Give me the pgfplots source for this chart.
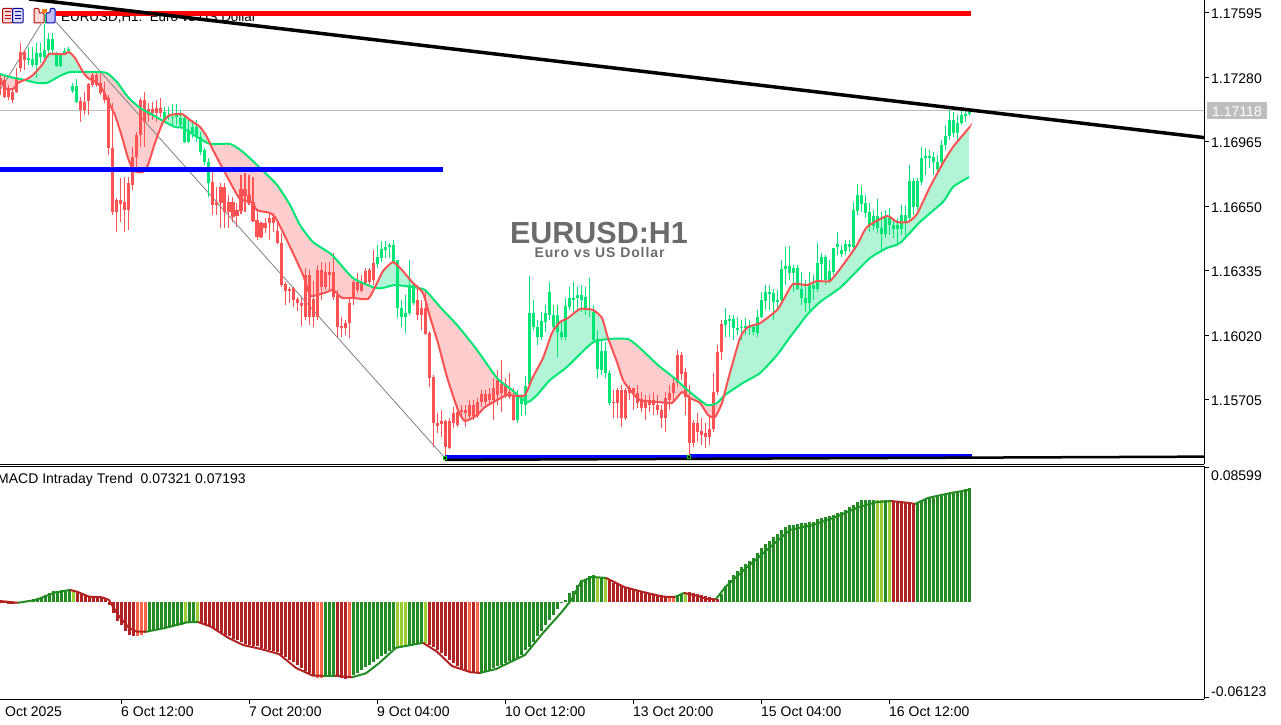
\documentclass[border=0pt]{standalone}
\usepackage{fontspec}
\setmainfont{Liberation Sans}
\usepackage{pgfplots}
\usepackage{pgfplotstable}
\pgfplotsset{compat=1.18}

\definecolor{cgreen}{HTML}{00E676}
\definecolor{cred}{HTML}{FF5252}
\definecolor{fillg}{HTML}{B2F5D6}
\definecolor{fillr}{HTML}{FFCDCD}
\definecolor{hgreen}{HTML}{228B22}
\definecolor{hred}{HTML}{B22222}
\definecolor{horange}{HTML}{FF6347}
\definecolor{hyellow}{HTML}{9ACD32}
\definecolor{greyt}{HTML}{BEBEBE}
\definecolor{wmark}{HTML}{6B6B6B}

% bars: index, high, body top, body bottom, low
\pgfplotstableread{
i h t b l
0 1.17292 1.17277 1.17243 1.17194
1 1.17292 1.17267 1.17184 1.17179
2 1.17243 1.17228 1.17184 1.17170
3 1.17228 1.17209 1.17170 1.17155
4 1.17326 1.17282 1.17209 1.17204
5 1.17448 1.17404 1.17326 1.17306
6 1.17414 1.17404 1.17365 1.17316
20 1.17184 1.17165 1.17121 1.17062
21 1.17209 1.17160 1.17121 1.17096
22 1.17253 1.17248 1.17165 1.17096
23 1.17306 1.17292 1.17243 1.17233
24 1.17306 1.17292 1.17243 1.17233
25 1.17301 1.17253 1.17204 1.17194
26 1.17257 1.17204 1.17170 1.17155
27 1.17194 1.17179 1.16935 1.16901
28 1.17155 1.16935 1.16623 1.16608
29 1.16691 1.16681 1.16623 1.16525
30 1.16789 1.16681 1.16662 1.16574
31 1.16794 1.16672 1.16633 1.16525
32 1.16794 1.16764 1.16633 1.16535
33 1.16940 1.16891 1.16755 1.16730
34 1.17013 1.16999 1.16891 1.16818
35 1.17179 1.17170 1.16999 1.16940
36 1.17209 1.17170 1.17062 1.16940
37 1.17155 1.17126 1.17096 1.17062
38 1.17160 1.17126 1.17106 1.17072
39 1.17170 1.17131 1.17106 1.17062
40 1.17179 1.17131 1.17106 1.17087
53 1.16818 1.16769 1.16657 1.16608
54 1.16745 1.16672 1.16657 1.16608
55 1.16764 1.16745 1.16667 1.16545
56 1.16764 1.16745 1.16623 1.16545
57 1.16706 1.16672 1.16623 1.16545
58 1.16696 1.16672 1.16598 1.16574
59 1.16667 1.16633 1.16604 1.16550
60 1.16804 1.16735 1.16628 1.16613
61 1.16813 1.16735 1.16701 1.16623
62 1.16804 1.16706 1.16667 1.16657
63 1.16794 1.16672 1.16579 1.16574
64 1.16633 1.16584 1.16501 1.16486
65 1.16574 1.16569 1.16501 1.16496
66 1.16594 1.16569 1.16545 1.16520
67 1.16623 1.16594 1.16569 1.16486
68 1.16618 1.16598 1.16569 1.16525
69 1.16574 1.16530 1.16471 1.16466
70 1.16520 1.16471 1.16266 1.16256
71 1.16281 1.16271 1.16237 1.16169
72 1.16256 1.16247 1.16237 1.16178
73 1.16256 1.16252 1.16193 1.16159
74 1.16208 1.16198 1.16178 1.16139
75 1.16203 1.16178 1.16164 1.16066
76 1.16349 1.16315 1.16110 1.16095
77 1.16339 1.16315 1.16110 1.16071
78 1.16286 1.16198 1.16110 1.16061
79 1.16364 1.16339 1.16110 1.16095
80 1.16379 1.16339 1.16256 1.16193
81 1.16374 1.16330 1.16256 1.16242
82 1.16379 1.16330 1.16315 1.16242
83 1.16423 1.16330 1.16208 1.16193
84 1.16242 1.16217 1.16061 1.16012
85 1.16110 1.16066 1.16056 1.16012
86 1.16095 1.16080 1.16056 1.16022
87 1.16208 1.16178 1.16080 1.16007
88 1.16291 1.16281 1.16208 1.16169
89 1.16325 1.16281 1.16242 1.16227
90 1.16315 1.16276 1.16237 1.16232
91 1.16349 1.16335 1.16276 1.16266
92 1.16349 1.16339 1.16281 1.16266
93 1.16437 1.16374 1.16291 1.16266
104 1.16266 1.16193 1.16120 1.16095
105 1.16193 1.16154 1.16120 1.16046
106 1.16242 1.16154 1.16027 1.16022
107 1.16041 1.16032 1.15812 1.15768
108 1.15827 1.15817 1.15592 1.15475
109 1.15641 1.15592 1.15578 1.15544
110 1.15655 1.15602 1.15587 1.15524
111 1.15607 1.15602 1.15475 1.15431
112 1.15617 1.15602 1.15470 1.15465
113 1.15670 1.15641 1.15592 1.15568
114 1.15680 1.15646 1.15582 1.15573
115 1.15680 1.15655 1.15645 1.15616
116 1.15680 1.15655 1.15641 1.15573
117 1.15704 1.15680 1.15626 1.15616
118 1.15704 1.15680 1.15626 1.15607
119 1.15714 1.15694 1.15626 1.15616
120 1.15753 1.15734 1.15694 1.15670
121 1.15753 1.15734 1.15694 1.15680
122 1.15763 1.15734 1.15704 1.15680
123 1.15812 1.15763 1.15704 1.15607
124 1.15851 1.15802 1.15729 1.15680
125 1.15900 1.15783 1.15739 1.15646
126 1.15812 1.15783 1.15724 1.15714
127 1.15836 1.15744 1.15719 1.15709
128 1.15763 1.15724 1.15607 1.15602
153 1.15753 1.15694 1.15690 1.15616
154 1.15763 1.15753 1.15690 1.15616
155 1.15778 1.15753 1.15616 1.15573
156 1.15763 1.15753 1.15616 1.15607
157 1.15778 1.15763 1.15739 1.15704
158 1.15763 1.15763 1.15739 1.15655
159 1.15778 1.15739 1.15690 1.15665
160 1.15744 1.15709 1.15665 1.15646
161 1.15729 1.15704 1.15665 1.15607
162 1.15729 1.15704 1.15680 1.15646
163 1.15744 1.15704 1.15680 1.15631
164 1.15729 1.15680 1.15655 1.15631
165 1.15680 1.15655 1.15616 1.15568
166 1.15743 1.15714 1.15616 1.15548
167 1.15778 1.15739 1.15704 1.15655
168 1.15812 1.15788 1.15739 1.15694
169 1.15949 1.15924 1.15788 1.15768
170 1.15939 1.15924 1.15832 1.15802
171 1.15861 1.15841 1.15719 1.15631
172 1.15778 1.15719 1.15495 1.15436
173 1.15607 1.15592 1.15495 1.15475
174 1.15641 1.15592 1.15548 1.15499
175 1.15616 1.15553 1.15533 1.15485
176 1.15592 1.15543 1.15524 1.15470
177 1.15631 1.15563 1.15524 1.15485
178 1.15836 1.15743 1.15563 1.15548
179 1.15973 1.15939 1.15743 1.15729
180 1.16095 1.16076 1.15939 1.15900
}\redbars
\pgfplotstableread{
i h t b l
7 1.17428 1.17375 1.17365 1.17341
8 1.17428 1.17370 1.17341 1.17331
9 1.17448 1.17399 1.17341 1.17277
10 1.17448 1.17399 1.17380 1.17350
11 1.17599 1.17414 1.17380 1.17365
12 1.17497 1.17468 1.17414 1.17380
13 1.17497 1.17468 1.17414 1.17390
14 1.17404 1.17390 1.17336 1.17331
15 1.17399 1.17390 1.17336 1.17331
16 1.17424 1.17409 1.17394 1.17390
17 1.17428 1.17419 1.17409 1.17404
18 1.17253 1.17238 1.17214 1.17204
19 1.17272 1.17238 1.17160 1.17155
41 1.17135 1.17111 1.17072 1.17062
42 1.17135 1.17096 1.17087 1.17072
43 1.17150 1.17087 1.17082 1.17047
44 1.17150 1.17096 1.17087 1.17047
45 1.17121 1.17082 1.17047 1.17038
46 1.17087 1.17082 1.16965 1.16960
47 1.17072 1.17023 1.16965 1.16960
48 1.17072 1.17038 1.17008 1.16984
49 1.17072 1.17038 1.16989 1.16965
50 1.17013 1.16989 1.16916 1.16901
51 1.16935 1.16925 1.16867 1.16852
52 1.16886 1.16867 1.16764 1.16696
94 1.16461 1.16403 1.16369 1.16349
95 1.16481 1.16442 1.16398 1.16379
96 1.16481 1.16452 1.16437 1.16398
97 1.16471 1.16461 1.16452 1.16398
98 1.16486 1.16461 1.16379 1.16374
99 1.16388 1.16388 1.16154 1.16105
100 1.16193 1.16154 1.16110 1.16061
101 1.16217 1.16130 1.16110 1.16032
102 1.16388 1.16266 1.16130 1.16120
103 1.16281 1.16266 1.16178 1.16169
129 1.15753 1.15719 1.15607 1.15592
130 1.15734 1.15709 1.15685 1.15626
131 1.15822 1.15773 1.15680 1.15631
132 1.16310 1.16130 1.15783 1.15773
133 1.16193 1.16130 1.16061 1.16046
134 1.16095 1.16061 1.16012 1.15973
135 1.16134 1.16090 1.16012 1.15998
136 1.16169 1.16130 1.16085 1.16037
137 1.16281 1.16232 1.16120 1.16095
138 1.16169 1.16120 1.16061 1.16046
139 1.16169 1.16120 1.16037 1.15914
140 1.16095 1.16037 1.16012 1.15998
141 1.16203 1.16164 1.16012 1.15998
142 1.16256 1.16203 1.16159 1.16144
143 1.16281 1.16203 1.16193 1.16134
144 1.16256 1.16217 1.16203 1.16144
145 1.16266 1.16217 1.16193 1.16134
146 1.16256 1.16208 1.16154 1.16120
147 1.16300 1.16154 1.16144 1.16110
148 1.16169 1.16134 1.15998 1.15983
149 1.16046 1.16003 1.15856 1.15812
150 1.15998 1.15944 1.15851 1.15827
151 1.15988 1.15944 1.15836 1.15812
152 1.15851 1.15836 1.15690 1.15680
181 1.16154 1.16095 1.16071 1.16012
182 1.16120 1.16100 1.16090 1.16012
183 1.16120 1.16100 1.16056 1.15998
184 1.16110 1.16056 1.16046 1.16022
185 1.16095 1.16061 1.16056 1.15998
186 1.16105 1.16066 1.16056 1.16022
187 1.16095 1.16066 1.16056 1.16022
188 1.16071 1.16061 1.16037 1.16022
189 1.16144 1.16110 1.16032 1.16012
190 1.16232 1.16193 1.16110 1.16105
191 1.16266 1.16232 1.16188 1.16144
192 1.16266 1.16232 1.16222 1.16144
193 1.16247 1.16227 1.16183 1.16095
194 1.16242 1.16193 1.16183 1.16144
195 1.16388 1.16344 1.16193 1.16183
196 1.16452 1.16359 1.16344 1.16266
197 1.16457 1.16359 1.16325 1.16291
198 1.16364 1.16349 1.16325 1.16232
199 1.16364 1.16349 1.16247 1.16242
200 1.16330 1.16247 1.16203 1.16169
201 1.16291 1.16203 1.16178 1.16134
202 1.16330 1.16266 1.16178 1.16134
203 1.16315 1.16266 1.16247 1.16193
204 1.16471 1.16374 1.16247 1.16232
205 1.16422 1.16403 1.16369 1.16291
206 1.16413 1.16403 1.16291 1.16266
207 1.16388 1.16334 1.16291 1.16276
208 1.16447 1.16447 1.16329 1.16315
209 1.16524 1.16466 1.16452 1.16413
210 1.16461 1.16437 1.16417 1.16403
211 1.16486 1.16466 1.16432 1.16413
212 1.16486 1.16466 1.16452 1.16427
213 1.16672 1.16632 1.16452 1.16447
214 1.16760 1.16705 1.16628 1.16608
215 1.16750 1.16705 1.16662 1.16623
216 1.16705 1.16666 1.16618 1.16593
217 1.16666 1.16623 1.16559 1.16525
218 1.16632 1.16603 1.16554 1.16535
219 1.16686 1.16603 1.16544 1.16520
220 1.16623 1.16544 1.16515 1.16427
221 1.16632 1.16593 1.16515 1.16496
222 1.16642 1.16593 1.16559 1.16510
223 1.16593 1.16559 1.16539 1.16496
224 1.16593 1.16559 1.16539 1.16461
225 1.16657 1.16608 1.16539 1.16510
226 1.16657 1.16608 1.16574 1.16500
227 1.16853 1.16774 1.16593 1.16574
228 1.16789 1.16774 1.16647 1.16608
229 1.16789 1.16774 1.16647 1.16632
230 1.16940 1.16886 1.16769 1.16755
231 1.16935 1.16896 1.16886 1.16804
232 1.16925 1.16896 1.16886 1.16838
233 1.16916 1.16891 1.16867 1.16804
234 1.16901 1.16867 1.16833 1.16818
235 1.16975 1.16950 1.16867 1.16853
236 1.17047 1.16994 1.16950 1.16925
237 1.17121 1.17072 1.16994 1.16975
238 1.17111 1.17072 1.17008 1.16989
239 1.17096 1.17057 1.17008 1.16960
240 1.17121 1.17096 1.17057 1.17047
241 1.17121 1.17101 1.17091 1.17062
242 1.17116 1.17111 1.17101 1.17091
}\greenbars

% fast and slow averages
\pgfplotstableread{
i p
-0.25 1.17277
1 1.17228
3 1.17223
4.25 1.17253
6.5 1.17272
8 1.17292
10.25 1.17341
12 1.17394
14.25 1.17394
16 1.17394
17 1.17404
18.5 1.17375
20.5 1.17306
21.75 1.17277
24 1.17253
25.5 1.17218
27 1.17155
28.5 1.17096
30.25 1.16989
31.75 1.16886
33 1.16828
34 1.16818
35.5 1.16818
36.75 1.16853
38.5 1.16960
40.5 1.17062
42.25 1.17096
45.25 1.17101
47.25 1.17072
49.75 1.17038
51.5 1.16989
53 1.16925
55.25 1.16842
57.25 1.16769
59.75 1.16686
62.75 1.16672
64 1.16632
67.25 1.16618
68.5 1.16598
70.25 1.16534
73 1.16422
75.5 1.16315
77.25 1.16217
79 1.16217
81.5 1.16232
83 1.16242
85.25 1.16203
88 1.16203
91.75 1.16198
93.5 1.16256
95.5 1.16334
98 1.16378
100.25 1.16339
103 1.16276
105.5 1.16227
107.25 1.16110
109.25 1.15983
111.5 1.15817
114.25 1.15655
116 1.15602
119 1.15631
121 1.15670
124 1.15704
126.5 1.15729
129 1.15724
131 1.15729
133 1.15817
135.5 1.15909
137.75 1.16032
139.75 1.16085
141.75 1.16105
144.75 1.16149
148 1.16144
150.25 1.16105
151.75 1.16007
154 1.15890
155.5 1.15802
157.25 1.15753
159.75 1.15704
164.75 1.15694
167.75 1.15690
170.25 1.15743
172.25 1.15714
174.75 1.15690
176.75 1.15631
178.5 1.15621
180.25 1.15690
181.75 1.15802
184.75 1.16007
186.75 1.16061
189.75 1.16080
194 1.16144
196 1.16208
198 1.16271
201.5 1.16266
204 1.16286
207.25 1.16286
210.5 1.16364
214 1.16461
216.5 1.16549
221.5 1.16603
224 1.16574
226.75 1.16574
229 1.16613
232.25 1.16745
235.5 1.16862
238 1.16940
241.75 1.17028
242 1.17033
}\fastT
\pgfplotstableread{
i p
-0.25 1.17297
2.25 1.17282
6 1.17267
9 1.17253
11.5 1.17253
14.25 1.17282
17.25 1.17306
24 1.17306
26.5 1.17301
29 1.17257
31.75 1.17184
34.75 1.17131
38 1.17096
41 1.17062
43.5 1.17038
45.5 1.17033
49 1.16989
52.25 1.16955
57.25 1.16955
60.5 1.16916
64.75 1.16838
69 1.16755
72.25 1.16657
74.75 1.16559
78 1.16476
82.75 1.16413
88 1.16300
93.5 1.16252
95.5 1.16252
98.5 1.16266
102.75 1.16256
106 1.16242
109.75 1.16159
114 1.16071
119 1.15949
124 1.15812
127.75 1.15753
131.5 1.15694
134 1.15729
137.25 1.15802
141.5 1.15866
147.75 1.15983
151.75 1.16002
156.75 1.16002
159.75 1.15958
164.25 1.15875
168 1.15817
172.25 1.15743
176.5 1.15680
179 1.15690
181 1.15729
185.5 1.15788
189.75 1.15836
194 1.15924
196.75 1.15998
201.5 1.16120
204.75 1.16183
209.75 1.16252
213 1.16315
217.25 1.16398
221.5 1.16447
224.75 1.16471
229.75 1.16574
235.5 1.16672
238 1.16745
242 1.16793
}\slowT

\begin{document}
\begin{tikzpicture}[every node/.style={inner sep=0pt}]
\path[use as bounding box] (0,0) rectangle (1281pt,724pt);

% text that lies under the chart objects
\begin{scope}[shift={(0,724pt)},x=1pt,y=-1pt]
\node[anchor=west,font=\fontsize{13.4}{16}\selectfont] at (61,18) {EURUSD,H1:\ \ Euro vs US Dollar};
\node[text=wmark,font=\fontsize{30.5}{32}\selectfont\bfseries] at (599,233) {EURUSD:H1};
\node[text=wmark,font=\fontsize{14}{16}\selectfont\bfseries\addfontfeature{LetterSpace=6.4}] at (599.5,252.5) {Euro vs US Dollar};
\node[anchor=west,font=\fontsize{14}{16}\selectfont] at (-3,480) {MACD Intraday Trend\ \ 0.07321 0.07193};
\node[anchor=west,font=\fontsize{14}{16}\selectfont] at (5,712) {Oct 2025};
\fill[greyt] (1207,102) rectangle (1267,119);
\node[text=white,font=\fontsize{14}{16}\selectfont] at (1237,111.2) {1.17118};
\node[anchor=west,font=\fontsize{14}{16}\selectfont] at (1211,476) {0.08599};
\node[anchor=west,font=\fontsize{14}{16}\selectfont] at (1211,692) {-0.06123};
\end{scope}

% price panel
\begin{axis}[
    at={(0pt,260pt)}, anchor=south west,
    scale only axis, width=1204pt, height=464pt,
    xmin=-0.25, xmax=300.75, ymin=1.15392, ymax=1.17658,
    axis x line=bottom, axis y line=right,
    axis line style={-,line width=1pt},
    xtick=\empty,
    ytick={1.17595,1.17280,1.16965,1.16650,1.16335,1.16020,1.15705},
    yticklabels={1.17595,1.17280,1.16965,1.16650,1.16335,1.16020,1.15705},
    scaled y ticks=false,
    tick align=outside, major tick length=5pt,
    tick style={black,line width=1pt},
    yticklabel style={anchor=west,font=\fontsize{14}{16}\selectfont,xshift=2pt,yshift=-1pt},
]
% bid line
\addplot[greyt,line width=1pt] coordinates {(-1,1.17118) (301,1.17118)};
% band between the two averages, one polygon per crossing
\addplot[fillr,fill=fillr,draw=none] coordinates {(-0.25,1.17277)(1,1.17228)(3,1.17223)(4.25,1.17253)(6.25,1.17268)(2.25,1.17282)(-0.25,1.17297)} --cycle;
\addplot[fillg,fill=fillg,draw=none] coordinates {(6.25,1.17268)(8,1.17292)(10.25,1.17341)(12,1.17394)(14.25,1.17394)(16,1.17394)(17,1.17404)(18.5,1.17375)(20.6,1.17306)(17.25,1.17306)(14.25,1.17282)(11.5,1.17253)(9,1.17253)} --cycle;
\addplot[fillr,fill=fillr,draw=none] coordinates {(20.6,1.17306)(21.75,1.17277)(24,1.17253)(25.5,1.17218)(27,1.17155)(28.5,1.17096)(30.25,1.16989)(31.75,1.16886)(33,1.16828)(34,1.16818)(35.5,1.16818)(36.75,1.16853)(38.5,1.16960)(40.5,1.17062)(41,1.17064)(38,1.17096)(34.75,1.17131)(31.75,1.17184)(29,1.17257)(26.5,1.17301)(24,1.17306)} --cycle;
\addplot[fillg,fill=fillg,draw=none] coordinates {(41,1.17064)(42.25,1.17096)(45.25,1.17101)(47.25,1.17072)(49.75,1.17038)(51.5,1.16989)(52.3,1.16955)(49,1.16989)(45.5,1.17033)(43.5,1.17038)} --cycle;
\addplot[fillr,fill=fillr,draw=none] coordinates {(52.3,1.16955)(53,1.16925)(55.25,1.16842)(57.25,1.16769)(59.75,1.16686)(62.75,1.16672)(64,1.16632)(67.25,1.16618)(68.5,1.16598)(70.25,1.16534)(73,1.16422)(75.5,1.16315)(77.25,1.16217)(79,1.16217)(81.5,1.16232)(83,1.16242)(85.25,1.16203)(88,1.16203)(91.75,1.16198)(93.5,1.16254)(88,1.16300)(82.75,1.16413)(78,1.16476)(74.75,1.16559)(72.25,1.16657)(69,1.16755)(64.75,1.16838)(60.5,1.16916)(57.25,1.16955)} --cycle;
\addplot[fillg,fill=fillg,draw=none] coordinates {(93.5,1.16254)(95.5,1.16334)(98,1.16378)(100.25,1.16339)(103,1.16276)(103.6,1.16256)(102.75,1.16256)(98.5,1.16266)(95.5,1.16252)} --cycle;
\addplot[fillr,fill=fillr,draw=none] coordinates {(103.6,1.16256)(105.5,1.16227)(107.25,1.16110)(109.25,1.15983)(111.5,1.15817)(114.25,1.15655)(116,1.15602)(119,1.15631)(121,1.15670)(124,1.15704)(126.5,1.15729)(129.3,1.15724)(127.75,1.15753)(124,1.15812)(119,1.15949)(114,1.16071)(109.75,1.16159)(106,1.16242)} --cycle;
\addplot[fillg,fill=fillg,draw=none] coordinates {(129.3,1.15724)(131,1.15729)(133,1.15817)(135.5,1.15909)(137.75,1.16032)(139.75,1.16085)(141.75,1.16105)(144.75,1.16149)(148,1.16144)(150.25,1.16105)(151.75,1.16005)(147.75,1.15983)(141.5,1.15866)(137.25,1.15802)(134,1.15729)(131.5,1.15694)} --cycle;
\addplot[fillr,fill=fillr,draw=none] coordinates {(151.75,1.16005)(154,1.15890)(155.5,1.15802)(157.25,1.15753)(159.75,1.15704)(164.75,1.15694)(167.75,1.15690)(170.25,1.15743)(172.25,1.15714)(174.75,1.15690)(176.75,1.15631)(178.5,1.15621)(180.25,1.15690)(180.8,1.15720)(179,1.15690)(176.5,1.15680)(172.25,1.15743)(168,1.15817)(164.25,1.15875)(159.75,1.15958)(156.75,1.16002)} --cycle;
\addplot[fillg,fill=fillg,draw=none] coordinates {(180.8,1.15720)(181.75,1.15802)(184.75,1.16007)(186.75,1.16061)(189.75,1.16080)(194,1.16144)(196,1.16208)(198,1.16271)(201.5,1.16266)(204,1.16286)(207.25,1.16286)(210.5,1.16364)(214,1.16461)(216.5,1.16549)(221.5,1.16603)(224,1.16574)(226.75,1.16574)(229,1.16613)(232.25,1.16745)(235.5,1.16862)(238,1.16940)(241.75,1.17028)(242,1.17033)(242,1.16793)(238,1.16745)(235.5,1.16672)(229.75,1.16574)(224.75,1.16471)(221.5,1.16447)(217.25,1.16398)(213,1.16315)(209.75,1.16252)(204.75,1.16183)(201.5,1.16120)(196.75,1.15998)(194,1.15924)(189.75,1.15836)(185.5,1.15788)(181,1.15729)} --cycle;
% zigzag
\addplot[gray,line width=0.8pt] coordinates {(-0.25,1.17218) (11.75,1.17595) (111,1.15421)};
% candles: wicks then bodies
\addplot[draw=none,error bars/.cd,y dir=plus,y explicit,error mark=none,
    error bar style={cred,line width=1pt}]
    table[x=i,y=l,y error expr=\thisrow{h}-\thisrow{l}] {\redbars};
\addplot[draw=none,error bars/.cd,y dir=plus,y explicit,error mark=none,
    error bar style={cred,line width=3pt}]
    table[x=i,y=b,y error expr=\thisrow{t}-\thisrow{b}] {\redbars};
\addplot[draw=none,error bars/.cd,y dir=plus,y explicit,error mark=none,
    error bar style={cgreen,line width=1pt}]
    table[x=i,y=l,y error expr=\thisrow{h}-\thisrow{l}] {\greenbars};
\addplot[draw=none,error bars/.cd,y dir=plus,y explicit,error mark=none,
    error bar style={cgreen,line width=3pt}]
    table[x=i,y=b,y error expr=\thisrow{t}-\thisrow{b}] {\greenbars};
% averages
\addplot[cgreen,line width=2pt,smooth,tension=0.35] table[x=i,y=p] {\slowT};
\addplot[cred,line width=2pt,smooth,tension=0.35] table[x=i,y=p] {\fastT};
% levels
\addplot[red,line width=5pt] coordinates {(13.5,1.17592) (242.5,1.17592)};
\addplot[blue,line width=5pt] coordinates {(-1,1.16830) (110.5,1.16830)};
\addplot[blue,line width=4.5pt] coordinates {(111,1.15424) (172.25,1.15424)};
\addplot[blue,line width=4.5pt] coordinates {(172.25,1.15428) (242.75,1.15428)};
\addplot[black,line width=2.5pt] coordinates {(111,1.15412) (301,1.15428)};
\addplot[black,line width=3.5pt] coordinates {(7,1.17663) (300.75,1.16986)};
\addplot[only marks,mark=square*,mark size=1.5pt,mark options={fill=black,draw=green!80!black}] coordinates {(111,1.15421) (172,1.15426)};
\addplot[only marks,mark=triangle*,mark size=9pt,mark options={rotate=180,fill=greyt,draw=none}] coordinates {(242,1.17668)};
\end{axis}

% oscillator panel
\begin{axis}[
    at={(0pt,25pt)}, anchor=south west,
    scale only axis, width=1204pt, height=233pt,
    xmin=-0.25, xmax=300.75, ymin=-0.06189, ymax=0.08723,
    axis x line=bottom, axis y line=right,
    axis line style={-,line width=1pt},
    xtick={30,62,94,126,158,190,222},
    xticklabels={6 Oct 12:00,7 Oct 20:00,9 Oct 04:00,10 Oct 12:00,13 Oct 20:00,15 Oct 04:00,16 Oct 12:00},
    ytick={0.08599,-0.06123}, yticklabels={},
    scaled y ticks=false,
    tick align=outside, major tick length=5pt,
    tick style={black,line width=1pt},
    xticklabel style={anchor=north west,font=\fontsize{14}{16}\selectfont,yshift=-3pt},
    clip=false,
]
\draw[black,line width=1pt] (axis description cs:0,1) -- (axis description cs:1,1);
\addplot[ycomb,hgreen,line width=3pt] coordinates {
(5,.0003)(6,.0006)(7,.0013)(8,.0019)(9,.0026)(10,.0032)(11,.0045)(12,.0061)(13,.0070)(14,.0074)(15,.0077)(16,.0080)(17,.0083)
(37,-.0189)(38,-.0179)(39,-.0173)(40,-.0170)(41,-.0166)(42,-.0160)(43,-.0154)(44,-.0150)(45,-.0147)(47,-.0128)(48,-.0128)
(81,-.0474)(82,-.0474)(83,-.0474)
(88,-.0467)(89,-.0454)(90,-.0435)(91,-.0416)(92,-.0403)(93,-.0384)(94,-.0365)(95,-.0346)(96,-.0333)(97,-.0314)(98,-.0301)
(102,-.0275)(103,-.0269)(104,-.0269)(105,-.0262)
(120,-.0448)(121,-.0442)(122,-.0435)(123,-.0422)(124,-.0410)(125,-.0403)(126,-.0390)(127,-.0378)(128,-.0371)(129,-.0358)(130,-.0339)(131,-.0307)(132,-.0288)(133,-.0256)(134,-.0218)(135,-.0186)(136,-.0147)(137,-.0115)(138,-.0083)(139,-.0045)(140,-.0006)(141,.0016)(142,.0058)(143,.0074)(144,.0109)(145,.0141)(146,.0150)(147,.0166)(148,.0176)(150,.0160)
(169,.0038)(170,.0048)
(180,.0051)(181,.0102)(182,.0141)(183,.0173)(184,.0198)(185,.0224)(186,.0243)(187,.0262)(188,.0282)(189,.0314)(190,.0346)(191,.0371)(192,.0390)(193,.0416)(194,.0435)(195,.0461)(196,.0480)(197,.0493)(198,.0493)(199,.0499)(200,.0506)(201,.0506)(202,.0512)(203,.0512)(204,.0531)(205,.0538)(206,.0544)(207,.0550)(208,.0557)(209,.0570)(210,.0576)(211,.0589)(212,.0608)(213,.0621)(214,.0640)(215,.0653)(216,.0653)(217,.0653)(218,.0653)(221,.0653)
(229,.0640)(230,.0646)(231,.0659)(232,.0666)(233,.0666)(234,.0672)(235,.0678)(236,.0685)(237,.0691)(238,.0698)(239,.0704)(240,.0710)(241,.0723)(242,.0732)
};
\addplot[ycomb,hred,line width=3pt] coordinates {
(0,-.0006)(1,-.0006)(2,-.0013)(3,-.0013)(4,-.0006)
(19,.0064)(20,.0051)(21,.0045)(22,.0038)(23,.0035)(24,.0035)(25,.0032)(26,.0026)(27,-.0019)(28,-.0070)(29,-.0122)(30,-.0147)(31,-.0186)(32,-.0211)(33,-.0218)
(50,-.0134)(51,-.0141)(52,-.0154)(53,-.0166)(54,-.0179)(55,-.0198)(56,-.0211)(57,-.0218)(58,-.0237)(59,-.0243)(60,-.0256)(61,-.0269)(62,-.0275)(63,-.0282)(64,-.0282)(65,-.0294)(66,-.0301)(67,-.0307)(68,-.0314)(69,-.0320)(70,-.0339)(71,-.0352)(72,-.0371)(73,-.0384)(74,-.0403)(75,-.0422)(76,-.0442)(77,-.0454)(78,-.0467)
(84,-.0474)(85,-.0486)(86,-.0493)
(107,-.0275)(108,-.0288)(109,-.0307)(110,-.0326)(111,-.0346)(112,-.0371)(113,-.0390)(114,-.0410)(115,-.0429)(116,-.0442)(118,-.0454)
(152,.0147)(153,.0122)(154,.0115)(155,.0102)(156,.0093)(157,.0083)(158,.0077)(159,.0070)(160,.0064)(161,.0058)(162,.0058)(163,.0051)(164,.0048)(165,.0045)(166,.0038)
(172,.0064)(173,.0058)(174,.0051)(175,.0048)(176,.0042)(177,.0032)(178,.0026)(179,.0022)
(223,.0646)(224,.0640)(225,.0640)(226,.0634)(227,.0634)(228,.0634)
};
\addplot[ycomb,horange,line width=3pt] coordinates {
(34,-.0218)(35,-.0211)(36,-.0198)(79,-.0486)(80,-.0486)(87,-.0486)(117,-.0448)(119,-.0454)(167,.0032)(168,.0032)
};
\addplot[ycomb,hyellow,line width=3pt] coordinates {
(18,.0070)(46,-.0128)(49,-.0128)(99,-.0288)(100,-.0282)(101,-.0275)(106,-.0262)(149,.0160)(151,.0160)(171,.0061)(219,.0653)(220,.0653)(222,.0653)
};
% signal line, coloured by direction
\addplot[hred,line width=2pt] coordinates {(-0.25,.0008)(4.25,-.0003)};
\addplot[hgreen,line width=2pt] coordinates {(4.25,-.0003)(8.75,.0015)(13.25,.0061)(17.25,.0079)};
\addplot[hred,line width=2pt] coordinates {(17.25,.0079)(19,.0068)(22,.0036)(25.25,.0032)(27,.0015)(29.25,-.0081)(32,-.0164)(34,-.0188)(36.25,-.0188)};
\addplot[hgreen,line width=2pt] coordinates {(36.25,-.0188)(40.75,-.0166)(46.5,-.0128)(49.25,-.0126)};
\addplot[hred,line width=2pt] coordinates {(49.25,-.0126)(52.5,-.0156)(57,-.0230)(60.5,-.0273)(65,-.0299)(69.5,-.0331)(73.75,-.0420)(78,-.0470)(80.5,-.0470)};
\addplot[hgreen,line width=2pt] coordinates {(80.5,-.0470)(83.5,-.0470)};
\addplot[hred,line width=2pt] coordinates {(83.5,-.0470)(87.75,-.0480)};
\addplot[hgreen,line width=2pt] coordinates {(87.75,-.0480)(91.25,-.0454)(94.5,-.0390)(98.75,-.0291)(105.5,-.0259)};
\addplot[hred,line width=2pt] coordinates {(105.5,-.0259)(109,-.0316)(112.75,-.0408)(117.5,-.0448)(119.75,-.0452)};
\addplot[hgreen,line width=2pt] coordinates {(119.75,-.0452)(123.75,-.0427)(131,-.0337)(135.5,-.0196)(139.75,-.0075)(142.6,.0015)(145,.0132)(147.75,.0162)(151.25,.0156)};
\addplot[hred,line width=2pt] coordinates {(151.25,.0156)(155.75,.0098)(160.5,.0066)(165.5,.0036)(168.5,.0034)};
\addplot[hgreen,line width=2pt] coordinates {(168.5,.0034)(170.75,.0060)};
\addplot[hred,line width=2pt] coordinates {(170.75,.0060)(174.25,.0040)(176.5,.0021)(178.75,.0021)};
\addplot[hgreen,line width=2pt] coordinates {(178.75,.0021)(181.1,.0098)(185.75,.0207)(191.5,.0335)(197.25,.0463)(203,.0495)(208.75,.0546)(214.5,.0610)(219,.0642)(222.5,.0648)};
\addplot[hred,line width=2pt] coordinates {(222.5,.0648)(227,.0636)(228.5,.0629)};
\addplot[hgreen,line width=2pt] coordinates {(228.5,.0629)(231.75,.0668)(237.5,.0700)(242,.0719)};
\end{axis}

% terminal icons sit on top of everything
\begin{scope}[shift={(0,724pt)},x=1pt,y=-1pt]
\fill[white] (2,8) rectangle (56,24);
\draw[red!70!black,fill=red!15,line width=1pt,rounded corners=1pt] (2.5,8.5) rectangle (12.5,23);
\draw[blue!60!black,fill=blue!15,line width=1pt,rounded corners=1pt] (12.5,8.5) rectangle (23,23);
\foreach \yy in {12,15.5,19} {
  \draw[red!80!black,line width=1pt] (5,\yy) -- (11,\yy);
  \draw[blue!60!black,line width=1pt] (14.5,\yy) -- (21,\yy);
}
\draw[red!70!black,fill=red!15,line width=1pt,rounded corners=1pt] (34,8.5) -- (39,8.5) -- (39,13) -- (44,13) -- (44,23) -- (34,23) -- cycle;
\draw[blue!70!black,fill=blue!25,line width=1pt,rounded corners=1pt] (46,13) -- (50,13) -- (50,8.5) -- (55,8.5) -- (55,23) -- (46,23) -- cycle;
\fill[orange] (42,9) rectangle (47,13);
\draw[cgreen,line width=1pt] (45,14) -- (45,24);
\end{scope}
\end{tikzpicture}
\end{document}
